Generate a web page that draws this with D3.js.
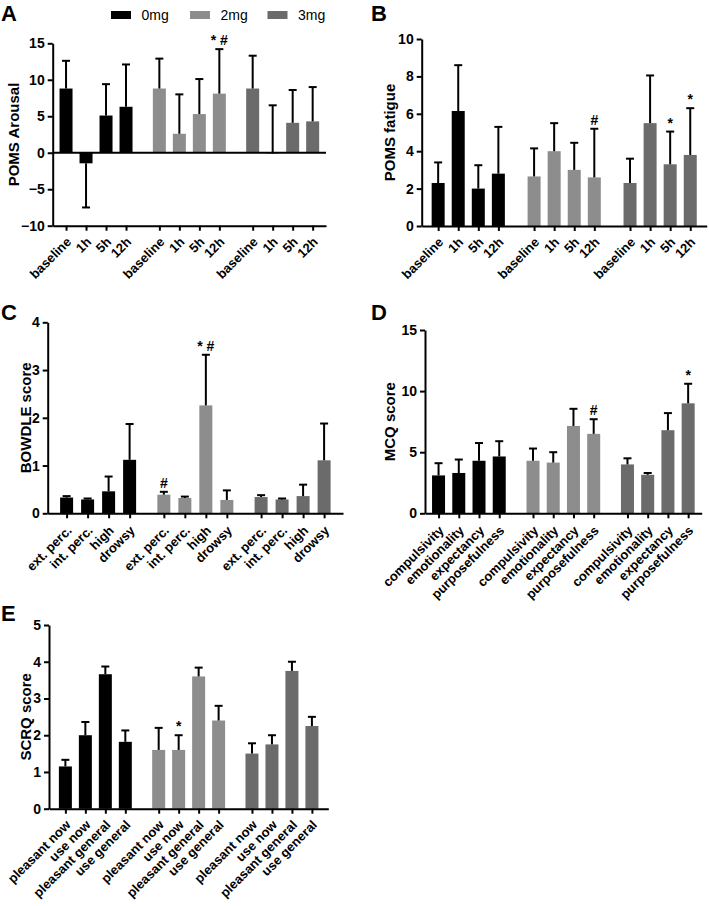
<!DOCTYPE html>
<html><head><meta charset="utf-8">
<script src="https://cdn.jsdelivr.net/npm/d3@7"></script>
<style>body{margin:0;background:#fff} svg{display:block} text{font-family:"Liberation Sans",Arial,sans-serif}</style>
</head><body><svg id="c" width="709" height="906"></svg>
<script>
const doses = ["0mg","2mg","3mg"];
const doseColors = ["#000000","#8d8d8d","#6b6b6b"];

const pomsTimes = ["baseline","1h","5h","12h"];
const arousalMean = [[8.8,-1.45,5.1,6.3],[8.8,2.6,5.3,8.1],[8.8,-0.1,4.1,4.3]];
const arousalErrEnd = [[12.6,-7.5,9.4,12.1],[12.9,8.0,10.1,14.2],[13.3,6.5,8.6,9.0]];
const arousalTicks = [-10,-5,0,5,10,15];

const fatigueMean = [[2.3,6.15,2.0,2.8],[2.65,4.0,3.0,2.6],[2.3,5.5,3.3,3.8]];
const fatigueErrEnd = [[3.4,8.6,3.25,5.3],[4.15,5.5,4.45,5.2],[3.6,8.05,5.05,6.3]];
const fatigueTicks = [0,2,4,6,8,10];

const bowdleItems = ["ext. perc.","int. perc.","high","drowsy"];
const bowdleMean = [[0.33,0.29,0.46,1.12],[0.39,0.32,2.26,0.28],[0.34,0.29,0.36,1.11]];
const bowdleErrEnd = [[0.36,0.31,0.77,1.87],[0.45,0.35,3.32,0.48],[0.38,0.31,0.60,1.88]];
const bowdleTicks = [0,1,2,3,4];

const mcqItems = ["compulsivity","emotionality","expectancy","purposefulness"];
const mcqMean = [[3.1,3.3,4.3,4.65],[4.3,4.15,7.15,6.5],[4.0,3.15,6.8,9.0]];
const mcqErrEnd = [[4.1,4.4,5.75,5.9],[5.3,5.0,8.55,7.7],[4.5,3.3,8.2,10.6]];
const mcqTicks = [0,5,10,15];

const scrqItems = ["pleasant now","use now","pleasant general","use general"];
const scrqMean = [[1.15,2.0,3.66,1.82],[1.6,1.6,3.6,2.4],[1.5,1.75,3.75,2.25]];
const scrqErrEnd = [[1.33,2.36,3.87,2.13],[2.2,2.0,3.84,2.8],[1.78,2.0,4.0,2.5]];
const scrqTicks = [0,1,2,3,4,5];

// significance marks: [dose index, item index, label]
const arousalMarks = [[1,3,"* #"]];
const fatigueMarks = [[1,3,"#"],[2,2,"*"],[2,3,"*"]];
const bowdleMarks = [[1,0,"#"],[1,2,"* #"]];
const mcqMarks = [[1,3,"#"],[2,3,"*"]];
const scrqMarks = [[1,1,"*"]];

const svg = d3.select("#c");
const FONT = '"Liberation Sans",Arial,sans-serif';

function panel(o){
  const g = svg.append("g");
  const y = d3.scaleLinear().domain(o.yDomain).range([o.yBottom, o.yTop]);
  const lastPos = 2*o.gStep + 3;
  const x = d3.scaleLinear().domain([-o.pad, lastPos + o.pad]).range([o.x0, o.x1]);
  const bw = 13;
  const rows = [];
  o.mean.forEach((arr,gi)=>arr.forEach((v,i)=>rows.push({gi,i,v,e:o.err[gi][i],pos:gi*o.gStep+i,label:o.items[i]})));

  g.selectAll("rect.bar").data(rows).join("rect").attr("class","bar")
    .attr("x", d=>x(d.pos)-bw/2).attr("width",bw)
    .attr("y", d=>y(Math.max(0,d.v))).attr("height", d=>Math.abs(y(d.v)-y(0)))
    .attr("fill", d=>doseColors[d.gi]);

  const eb = g.selectAll("g.err").data(rows).join("g").attr("class","err")
    .attr("stroke","#000").attr("stroke-width",2);
  eb.append("line").attr("x1",d=>x(d.pos)).attr("x2",d=>x(d.pos))
    .attr("y1",d=>y(d.v)).attr("y2",d=>y(d.e));
  eb.append("line").attr("x1",d=>x(d.pos)-4).attr("x2",d=>x(d.pos)+4)
    .attr("y1",d=>y(d.e)).attr("y2",d=>y(d.e));

  // y axis
  const ya = d3.axisLeft(y).tickValues(o.ticks).tickFormat(d3.format("d"))
    .tickSize(5).tickPadding(3).tickSizeOuter(0);
  const yg = g.append("g").attr("transform",`translate(${o.x0},0)`).call(ya);
  yg.selectAll("path,line").attr("stroke","#000").attr("stroke-width",2);
  yg.selectAll("text").attr("font-size",14).attr("font-weight","bold").attr("fill","#000")
    .attr("font-family",FONT);

  // x axis (at bottom of y range)
  const xa = d3.axisBottom(x).tickValues(rows.map(d=>d.pos)).tickFormat((d,i)=>rows[i].label)
    .tickSize(5).tickSizeOuter(0);
  const xg = g.append("g").attr("transform",`translate(0,${o.yBottom})`).call(xa);
  xg.selectAll("path,line").attr("stroke","#000").attr("stroke-width",2);
  xg.selectAll("text").attr("font-size",13).attr("font-weight","bold").attr("fill","#000")
    .attr("font-family",FONT)
    .attr("x",0).attr("y",0).attr("dy",0)
    .attr("transform",`translate(${o.lx},${o.ly}) rotate(-45)`).style("text-anchor","end");
  if (o.yDomain[0] < 0) {
    g.append("line").attr("x1",o.x0).attr("x2",o.x1).attr("y1",y(0)).attr("y2",y(0))
      .attr("stroke","#000").attr("stroke-width",2);
  }

  // marks
  g.selectAll("text.mark").data(o.marks).join("text").attr("class","mark")
    .attr("x",d=>x(d[0]*o.gStep+d[1])).attr("y",d=>y(o.err[d[0]][d[1]])-4)
    .attr("text-anchor","middle").attr("font-size",14).attr("font-weight","bold").text(d=>d[2]);

  // title
  g.append("text").attr("transform",`translate(${o.titleX},${(o.yTop+o.yBottom)/2}) rotate(-90)`)
    .attr("text-anchor","middle").attr("font-size",15).attr("font-weight","bold").text(o.title);
  // letter
  g.append("text").attr("x",o.letterX).attr("y",o.letterY).attr("font-size",22)
    .attr("font-weight","bold").text(o.letter);
}

panel({letter:"A",letterX:1,letterY:20.5,title:"POMS Arousal",titleX:19,lx:5.5,ly:17,
  x0:52.7,x1:326,yTop:43.3,yBottom:225.7,yDomain:[-10,15],gStep:4.667,pad:0.667,
  items:pomsTimes,mean:arousalMean,err:arousalErrEnd,ticks:arousalTicks,marks:arousalMarks});
panel({letter:"B",letterX:371,letterY:20.5,title:"POMS fatigue",titleX:395,lx:5.5,ly:17,
  x0:421.7,x1:706.7,yTop:39,yBottom:226,yDomain:[0,10],gStep:4.78,pad:0.82,
  items:pomsTimes,mean:fatigueMean,err:fatigueErrEnd,ticks:fatigueTicks,marks:fatigueMarks});
panel({letter:"C",letterX:1,letterY:320,title:"BOWDLE score",titleX:31,lx:5.5,ly:18,
  x0:47.7,x1:343,yTop:322.3,yBottom:513.3,yDomain:[0,4],gStep:4.63,pad:0.9,
  items:bowdleItems,mean:bowdleMean,err:bowdleErrEnd,ticks:bowdleTicks,marks:bowdleMarks});
panel({letter:"D",letterX:371,letterY:320,title:"MCQ score",titleX:395,lx:5.5,ly:18,
  x0:425,x1:701.7,yTop:330,yBottom:513.3,yDomain:[0,15],gStep:4.67,pad:0.67,
  items:mcqItems,mean:mcqMean,err:mcqErrEnd,ticks:mcqTicks,marks:mcqMarks});
panel({letter:"E",letterX:1,letterY:621,title:"SCRQ score",titleX:31,lx:5.5,ly:17,
  x0:49,x1:328.3,yTop:625,yBottom:808.7,yDomain:[0,5],gStep:4.67,pad:0.82,
  items:scrqItems,mean:scrqMean,err:scrqErrEnd,ticks:scrqTicks,marks:scrqMarks});

// legend
const legX = [111,190,267.5];
const leg = svg.append("g").selectAll("g").data(doses).join("g")
  .attr("transform",(d,i)=>`translate(${legX[i]},0)`);
leg.append("rect").attr("x",0).attr("y",11).attr("width",20).attr("height",8).attr("fill",(d,i)=>doseColors[i]);
leg.append("text").attr("x",30.5).attr("y",19.5).attr("font-size",14).text(d=>d);
</script></body></html>
